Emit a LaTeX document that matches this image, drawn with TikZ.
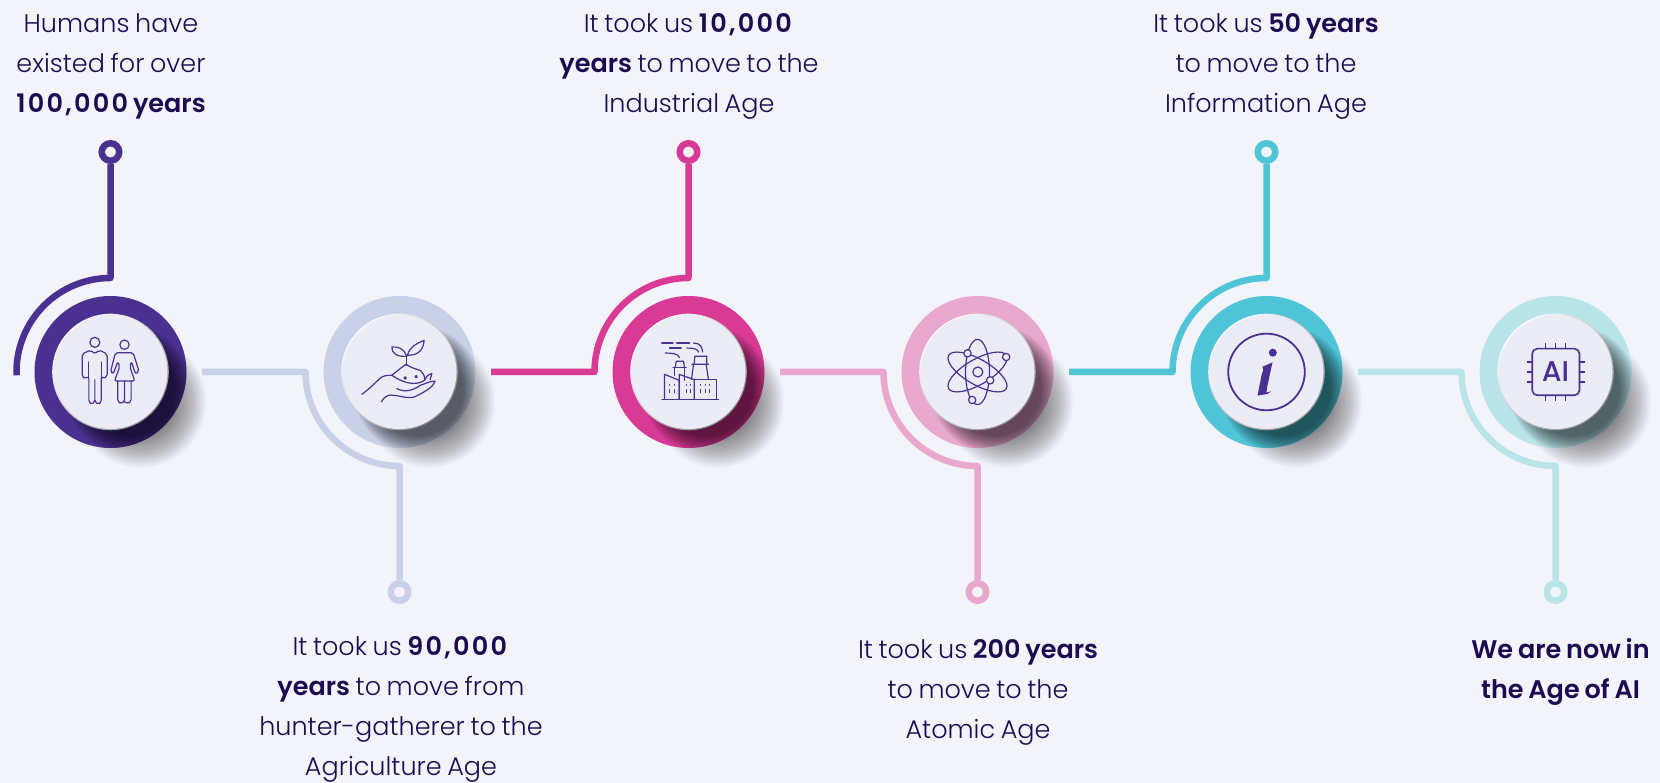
\documentclass[tikz,border=0pt]{standalone}
\usepackage{fontspec}
\setmainfont{Poppins Light}[BoldFont={Poppins SemiBold},WordSpace=0.8]
\newfontfamily\chipfont{Poppins Medium}
\newcommand{\bignum}[1]{{\addfontfeatures{LetterSpace=9}#1}}
\usetikzlibrary{calc,positioning}
\definecolor{paper}{HTML}{F3F3FA}
\definecolor{facecol}{HTML}{ECECF6}
\definecolor{inkcol}{HTML}{1C0B50}
\definecolor{iconcol}{HTML}{4A3090}
\definecolor{purplecol}{HTML}{4A3090}
\definecolor{lavendercol}{HTML}{C9D1E9}
\definecolor{magentacol}{HTML}{D93A95}
\definecolor{pinkcol}{HTML}{E9A8CD}
\definecolor{tealcol}{HTML}{50C5D8}
\definecolor{icecol}{HTML}{B9E4EA}
\tikzset{
  link/.style={line width=6.5pt,line join=round},
  pin/.style={circle,draw=#1,fill=paper,line width=6.5pt,minimum size=17.5pt,inner sep=0pt},
  hubface/.style={circle,fill=facecol,minimum size=114pt,inner sep=0pt,outer sep=0pt},
  caption/.style={align=center,text=inkcol,inner sep=0pt,font=\fontsize{25.5}{40}\selectfont},
  icon/.style={draw=iconcol,line width=1.2pt,line join=round,line cap=round},
}
\newcommand{\stagehub}[3]{%
  \foreach \r in {28,29,...,66}
    \fill[black,opacity=.016] (#2+30,411-30) circle (\r);
  \fill[#3] (#2,411) circle (76);
  \begin{scope}
    \clip (#2,411) circle (76);
    \foreach \r in {46,47,...,64}
      \fill[black,opacity=.04] (#2+18,411-18) circle (\r);
  \end{scope}
  \shade[top color=white,bottom color=black!45,shading angle=45] (#2,411) circle (58.3);
  \node[hubface] (#1) at (#2,411) {};
}
\begin{document}
\begin{tikzpicture}[x=1pt,y=1pt]
  \useasboundingbox (0,0) rectangle (1660,783);
  \fill[paper] (0,0) rectangle (1660,783);

  \stagehub{hubA}{110.5}{purplecol}
  \stagehub{hubB}{399.5}{lavendercol}
  \stagehub{hubC}{688.5}{magentacol}
  \stagehub{hubD}{977.5}{pinkcol}
  \stagehub{hubE}{1266.5}{tealcol}
  \stagehub{hubF}{1555.5}{icecol}

  \node[pin=purplecol] (pinA) at (110.5,631) {};
  \node[pin=lavendercol] (pinB) at (399.5,191) {};
  \node[pin=magentacol] (pinC) at (688.5,631) {};
  \node[pin=pinkcol] (pinD) at (977.5,191) {};
  \node[pin=tealcol] (pinE) at (1266.5,631) {};
  \node[pin=icecol] (pinF) at (1555.5,191) {};

  \coordinate (kneeA) at (110.5,505);
  \coordinate (tailB) at (202,411);
  \coordinate (kneeB) at (305.5,411);
  \coordinate (tailC) at (491,411);
  \coordinate (kneeC) at (594.5,411);
  \coordinate (tailD) at (780,411);
  \coordinate (kneeD) at (883.5,411);
  \coordinate (tailE) at (1069,411);
  \coordinate (kneeE) at (1172.5,411);
  \coordinate (tailF) at (1358,411);
  \coordinate (kneeF) at (1461.5,411);

  \draw[link,purplecol] (pinA)--(kneeA) arc[start angle=90,end angle=182,radius=94];
  \draw[link,lavendercol] (tailB)--(kneeB) arc[start angle=180,end angle=270,radius=94]--(pinB);
  \draw[link,magentacol] (tailC)--(kneeC) arc[start angle=180,end angle=90,radius=94]--(pinC);
  \draw[link,pinkcol] (tailD)--(kneeD) arc[start angle=180,end angle=270,radius=94]--(pinD);
  \draw[link,tealcol] (tailE)--(kneeE) arc[start angle=180,end angle=90,radius=94]--(pinE);
  \draw[link,icecol] (tailF)--(kneeF) arc[start angle=180,end angle=270,radius=94]--(pinF);

  \node[caption] (textA) at (111,716.5) {Humans have\\existed for over\\\textbf{\bignum{100,000} years}};
  \node[caption] (textB) at (401,73.5) {It took us \textbf{\bignum{90,000}}\\\textbf{years} to move from\\hunter-gatherer to the\\Agriculture Age};
  \node[caption] (textC) at (689,716.5) {It took us \textbf{\bignum{10,000}}\\\textbf{years} to move to the\\Industrial Age};
  \node[caption] (textD) at (978,91) {It took us \textbf{200 years}\\to move to the\\Atomic Age};
  \node[caption] (textE) at (1266,716.5) {It took us \textbf{50 years}\\to move to the\\Information Age};
  \node[caption] (textF) at (1560.5,111) {\textbf{We are now in}\\\textbf{the Age of AI}};

  \begin{scope}[shift={(hubA)},x=.333pt,y=-.333pt]
    \draw[icon] (-47,-89) circle (15);
    \draw[icon,rounded corners=2pt] (-85,-54)--(-60,-66)--(-47,-54)--(-34,-66)--(-10,-54)--(-10,14)--(-22,20)--(-28,14)--(-28,92)--(-37,97)--(-47,90)--(-47,20)--(-47,90)--(-56,97)--(-65,92)--(-65,14)--(-78,20)--(-85,14)--cycle;
    \draw[icon] (-65,14)--(-65,-30) (-28,14)--(-28,-30);
    \draw[icon] (42,-82) circle (14);
    \draw[icon,rounded corners=2pt] (15,-58)--(68,-58)--(86,-1)--(75,6)--(63,-31)--(58,-16)--(73,27)--(12,27)--(28,-16)--(22,-31)--(8,6)--(0,-1)--cycle;
    \draw[icon,rounded corners=2pt] (22,27)--(22,89)--(31,96)--(42,89)--(42,27) (42,89)--(52,96)--(62,89)--(62,27);
  \end{scope}

  \begin{scope}[shift={(hubB)},x=.333pt,y=-.333pt]
    \draw[icon] (22,-20)--(22,-50);
    \draw[icon] (22,-47) .. controls (10,-75) and (-5,-75) .. (-23,-75) .. controls (-25,-55) and (-5,-45) .. (22,-47);
    \draw[icon] (24,-50) .. controls (30,-75) and (50,-85) .. (74,-95) .. controls (72,-70) and (60,-50) .. (24,-50);
    \draw[icon] (-23,10) .. controls (-10,0) and (0,-10) .. (20,-23) .. controls (30,-15) and (45,-10) .. (62,-5) .. controls (72,5) and (78,15) .. (75,25) .. controls (60,35) and (30,45) .. (-23,10);
    \draw[icon] (-113,67) .. controls (-90,50) and (-75,35) .. (-60,20) .. controls (-50,10) and (-35,10) .. (-23,10);
    \draw[icon] (-8,50) .. controls (20,65) and (50,50) .. (62,40) .. controls (80,35) and (95,25) .. (107,28) .. controls (100,45) and (85,55) .. (45,75) .. controls (20,82) and (0,68) .. (-33,70) .. controls (-45,75) and (-50,82) .. (-55,90);
    \draw[icon] (75,25) .. controls (78,15) and (85,8) .. (97,5) .. controls (96,15) and (92,20) .. (92,23);
    \draw[icon] (17,18) circle (3.5) (50,14) circle (3.5);
  \end{scope}

  \begin{scope}[shift={(hubC)},x=.333pt,y=-.333pt]
    \draw[icon] (-80,82)--(90,82);
    \draw[icon] (-72,82)--(-72,7)--(-28,25)--(-28,82);
    \draw[icon] (-28,82)--(-28,7)--(17,23)--(17,82);
    \draw[icon] (17,23)--(83,23)--(83,82);
    \draw[icon] (-47,-13)--(-7,-13) (-43,-13)--(-43,10) (-13,-13)--(-13,25);
    \draw[icon] (-40,-13)--(-37,-32)--(-15,-32)--(-12,-13);
    \draw[icon] (10,-23)--(60,-23) (15,-23)--(9,23) (53,-23)--(60,23);
    \draw[icon] (17,-23)--(19,-47)--(55,-47)--(55,-23);
    \draw[icon,line width=1.6pt] (-80,-87)--(-47,-87) (-35,-87)--(3,-87);
    \draw[icon] (15,-87) .. controls (35,-87) and (42,-75) .. (42,-60);
    \draw[icon] (-57,-72)--(-22,-72);
    \draw[icon] (-5,-72) .. controls (15,-72) and (30,-68) .. (30,-60);
    \draw[icon] (-70,-57) .. controls (-50,-57) and (-30,-55) .. (-27,-43);
    \foreach \wx in {-57,-43,-7,7,36,50,63} {
      \draw[icon,line width=.8pt] (\wx,37)--(\wx,40) (\wx,53)--(\wx,62);
    }
  \end{scope}

  \begin{scope}[shift={(hubD)},x=.333pt,y=-.333pt]
    \draw[icon,rotate=-30] (0,0) ellipse (100 and 38);
    \draw[icon,rotate=30] (0,0) ellipse (100 and 38);
    \draw[icon] (0,0) ellipse (36 and 98);
    \draw[icon] (1,0) circle (15);
    \draw[icon,fill=facecol] (-30,-56) circle (11);
    \draw[icon,fill=facecol] (86,-45) circle (11);
    \draw[icon,fill=facecol] (38,25) circle (11);
    \draw[icon,fill=facecol] (-16,84) circle (11);
  \end{scope}

  \begin{scope}[shift={(hubE)},x=.333pt,y=-.333pt]
    \draw[icon,line width=1.8pt] (0,0) circle (115);
    \fill[iconcol] (19,-58) circle (12);
    \fill[iconcol] (-12,-16)--(18,-29)--(2,45)--(0,62)--(14,58)--(3,66)--(-27,71)--(-15,10)--(-10,-6)--cycle;
  \end{scope}

  \begin{scope}[shift={(hubF)},x=.333pt,y=-.333pt]
    \draw[icon,line width=1.6pt,rounded corners=5pt] (-70,-70) rectangle (72,70);
    \foreach \px in {-30,0,30} {
      \draw[icon,line width=1.6pt,line cap=butt] (\px,-87)--(\px,-70) (\px,70)--(\px,86);
      \draw[icon,line width=1.6pt,line cap=butt] (-87,\px)--(-70,\px) (72,\px)--(88,\px);
    }
    \node[text=iconcol,inner sep=0pt,font=\chipfont\fontsize{28.5}{28.5}\selectfont] (labelAI) at (0,0) {AI};
  \end{scope}
\end{tikzpicture}
\end{document}
